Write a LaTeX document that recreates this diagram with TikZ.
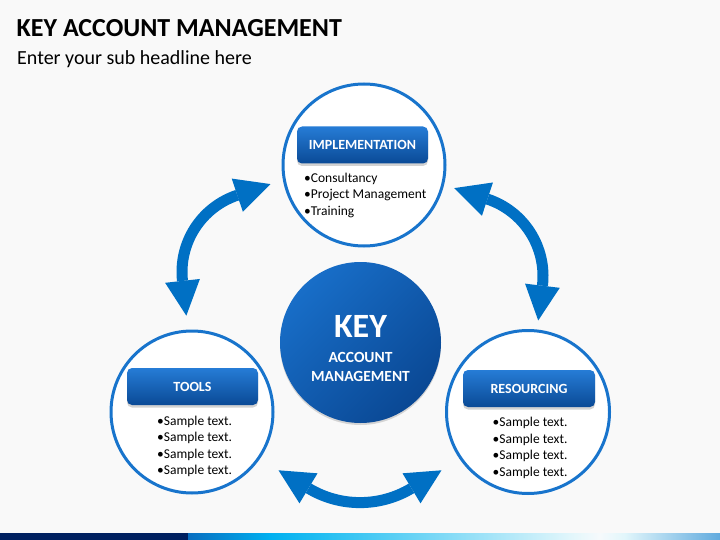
\documentclass[tikz,border=0pt]{standalone}
\usepackage{fontspec}
\setmainfont{Carlito}
\usetikzlibrary{calc,shadows}
\definecolor{bg}{RGB}{249,249,249}
\definecolor{arrowblue}{RGB}{0,112,196}
\definecolor{ringblue}{RGB}{24,116,204}
\definecolor{boxtop}{RGB}{38,124,214}
\definecolor{boxbot}{RGB}{10,74,150}
\definecolor{keytop}{RGB}{24,110,200}
\definecolor{keybot}{RGB}{10,72,148}
\definecolor{navy}{RGB}{0,32,96}
\definecolor{barA}{RGB}{8,110,192}
\definecolor{barB}{RGB}{0,176,240}
\definecolor{barC}{RGB}{40,192,242}
\definecolor{barD}{RGB}{225,246,251}
\definecolor{barE}{RGB}{246,250,252}
\definecolor{barF}{RGB}{96,170,222}
% double curved arrow: cx, cy, radius, start angle, end angle, name
\newcommand{\dblarc}[6]{%
  \pgfmathsetmacro{\arrS}{(#5>#4)?1:-1}%
  \pgfmathsetmacro{\arrDA}{#4-\arrS*90}%
  \pgfmathsetmacro{\arrDB}{#5+\arrS*90}%
  \coordinate (#6c) at (#1,#2);
  \coordinate (#6a) at ($(#6c)+(#4:#3)$);
  \coordinate (#6b) at ($(#6c)+(#5:#3)$);
  \draw[shaft] (#6a) arc[start angle=#4, end angle=#5, radius=#3];
  \fill[arrowblue] ($(#6a)+(\arrDA+90:17.5)$) -- ($(#6a)+(\arrDA:35)$) -- ($(#6a)+(\arrDA-90:17.5)$) -- cycle;
  \fill[arrowblue] ($(#6b)+(\arrDB+90:17.5)$) -- ($(#6b)+(\arrDB:35)$) -- ($(#6b)+(\arrDB-90:17.5)$) -- cycle;
}
\begin{document}
\begin{tikzpicture}[x=1pt,y=-1pt,
  shaft/.style={draw=arrowblue, line width=11pt, line cap=butt},
  ring/.style={circle, draw=ringblue, line width=3pt, fill=white, minimum size=#1, inner sep=0pt},
  labelbox/.style={rounded corners=5pt, top color=boxtop, bottom color=boxbot, text=white,
    font=\fontsize{14}{16}\selectfont\bfseries, minimum width=131pt, minimum height=37pt, inner sep=0pt,
    drop shadow={shadow xshift=0pt, shadow yshift=-2.5pt, opacity=0.35}},
  bul/.style={anchor=base west, inner sep=0pt, font=\fontsize{13.5}{16}\selectfont},
  keytext/.style={anchor=base, inner sep=0pt, text=white}]
\useasboundingbox (0,0) rectangle (720,540);
\fill[bg] (0,0) rectangle (720,540);
% bottom bar
\fill[navy] (0,533) rectangle (188,540);
\shade[left color=barA, right color=barB] (188,533) rectangle (270,540);
\shade[left color=barB, right color=barC] (269.5,533) rectangle (330,540);
\shade[left color=barC, right color=barD] (329.5,533) rectangle (570,540);
\shade[left color=barD, right color=barE] (569.5,533) rectangle (600,540);
\shade[left color=barE, right color=barD] (599.5,533) rectangle (625,540);
\shade[left color=barD, right color=barF] (624.5,533) rectangle (720,540);
% titles
\node[anchor=base west, inner sep=0pt, font=\fontsize{26}{30}\selectfont\bfseries] (title) at (16.5,36.5) {KEY ACCOUNT MANAGEMENT};
\node[anchor=base west, inner sep=0pt, font=\fontsize{20}{24}\selectfont] (subtitle) at (17,65) {Enter your sub headline here};
% arrows
\dblarc{263}{272}{81}{251.5}{173.7}{la}
\dblarc{462}{276}{81}{-71.7}{6.9}{ra}
\dblarc{360}{402.6}{100}{121}{59}{ba}
% circles
\node[ring=162] (imp) at (364,165) {};
\node[ring=162] (tools) at (192,412) {};
\node[ring=163] (res) at (528,412) {};
\node[circle, minimum size=161, inner sep=0pt, top color=keytop, bottom color=keybot, shading angle=45,
  drop shadow={shadow xshift=0pt, shadow yshift=-2pt, opacity=0.3}] (key) at (360.5,342.5) {};
% key text
\node[keytext, font=\fontsize{34}{36}\selectfont\bfseries] (keyword) at (360.5,337) {KEY};
\node[keytext, font=\fontsize{15.5}{18}\selectfont\bfseries] (account) at (360.5,362) {ACCOUNT};
\node[keytext, font=\fontsize{15.5}{18}\selectfont\bfseries] (mgmt) at (360.5,381) {MANAGEMENT};
% label boxes
\node[labelbox] (impbox) at (362.5,145) {IMPLEMENTATION};
\node[labelbox] (toolsbox) at (192.5,386.5) {TOOLS};
\node[labelbox, minimum width=132pt] (resbox) at (529,388.5) {RESOURCING};
% bullets
\node[bul] (imp1) at (304,182.5) {•Consultancy};
\node[bul] (imp2) at (304,199) {•Project Management};
\node[bul] (imp3) at (304,215.5) {•Training};
\foreach \i/\y in {1/425,2/441.5,3/458,4/474.5}
  \node[bul] (tool\i) at (157,\y) {•Sample text.};
\foreach \i/\y in {1/426.5,2/443,3/459.5,4/476}
  \node[bul] (res\i) at (492.5,\y) {•Sample text.};
\end{tikzpicture}
\end{document}
